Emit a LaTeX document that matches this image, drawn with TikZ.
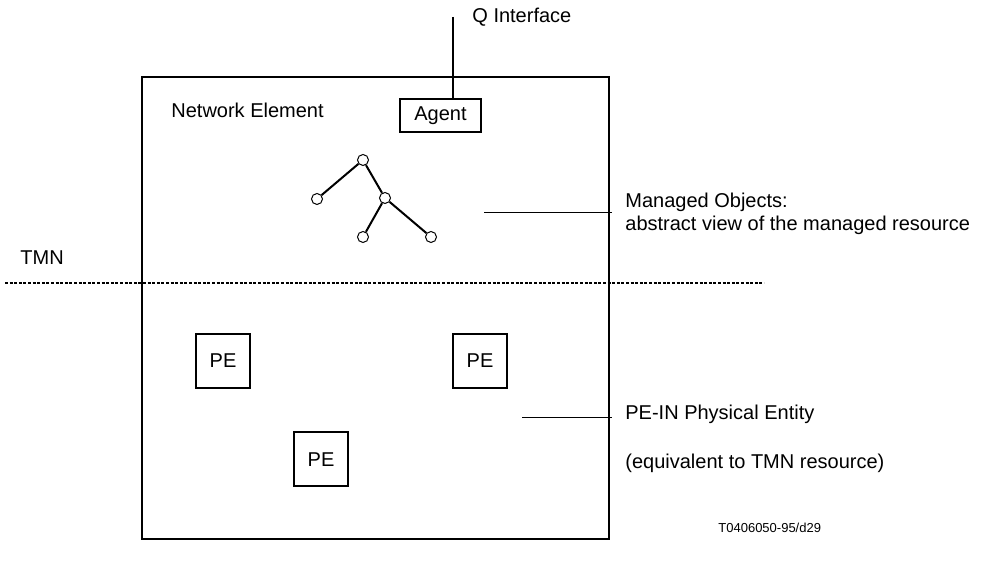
\documentclass[tikz,border=0pt]{standalone}
\usepackage{fontspec}
\setmainfont{Liberation Sans}
\usetikzlibrary{positioning}

\tikzset{
  pebox/.style={draw, line width=1pt, minimum width=27pt, minimum height=27pt, inner sep=0pt},
  objnode/.style={circle, draw, fill=white, line width=0.5pt, minimum size=5.5pt, inner sep=0pt},
  lbl/.style={anchor=west, inner sep=0pt, font=\fontsize{10}{12}\selectfont},
  tmnline/.style={line width=1.2pt, dash pattern=on 1.5pt off 0.8pt},
}

\begin{document}
\begin{tikzpicture}[x=0.5pt, y=-0.5pt]
        \useasboundingbox (0,0) rectangle (986,565);
        % network element
        \draw[line width=1pt] (142,77) rectangle (609,539);
        \node[lbl] (ne) at (171,110) {Network Element};
        \node[pebox, minimum width=40.5pt, minimum height=16.5pt] (agent) at (440.5,115.5) {Agent};
        \coordinate (qtop) at (453,17);
        \draw[line width=1pt] (qtop) -- (qtop |- agent.north);
        \node[lbl] (qif) at (472,17) {Q Interface};
        % managed objects
        \node[objnode] (mo1) at (363,160) {};
        \node[objnode] (mo2) at (317,199) {};
        \node[objnode] (mo3) at (385,198) {};
        \node[objnode] (mo4) at (363,237) {};
        \node[objnode] (mo5) at (431,237) {};
        \draw[line width=1pt] (mo1) -- (mo2);
        \draw[line width=1pt] (mo1) -- (mo3);
        \draw[line width=1pt] (mo3) -- (mo4);
        \draw[line width=1pt] (mo3) -- (mo5);
        \coordinate (moa) at (484,213);
        \coordinate (mob) at (612,213);
        \draw[line width=0.5pt] (moa) -- (mob);
        \node[lbl] (mot) at (625,202) {Managed Objects:};
        \node[lbl] (mov) at (625,225) {abstract view of the managed resource};
        % tmn border
        \node[lbl] (tmn) at (20,258) {TMN};
        \coordinate (ta) at (5,283);
        \coordinate (tb) at (764,283);
        \draw[tmnline] (ta) -- (tb);
        % physical entities
        \node[pebox] (pe1) at (223,361) {PE};
        \node[pebox] (pe2) at (480,361) {PE};
        \node[pebox] (pe3) at (321,459.5) {PE};
        \coordinate (pea) at (522,418);
        \coordinate (peb) at (612,418);
        \draw[line width=0.5pt] (pea) -- (peb);
        \node[lbl] (pet) at (625,414) {PE-IN Physical Entity};
        \node[lbl] (peq) at (625,463) {(equivalent to TMN resource)};
        \node[lbl, font=\fontsize{6.5}{8}\selectfont] (fig) at (718,528) {T0406050-95/d29};
    \end{tikzpicture}
\end{document}
